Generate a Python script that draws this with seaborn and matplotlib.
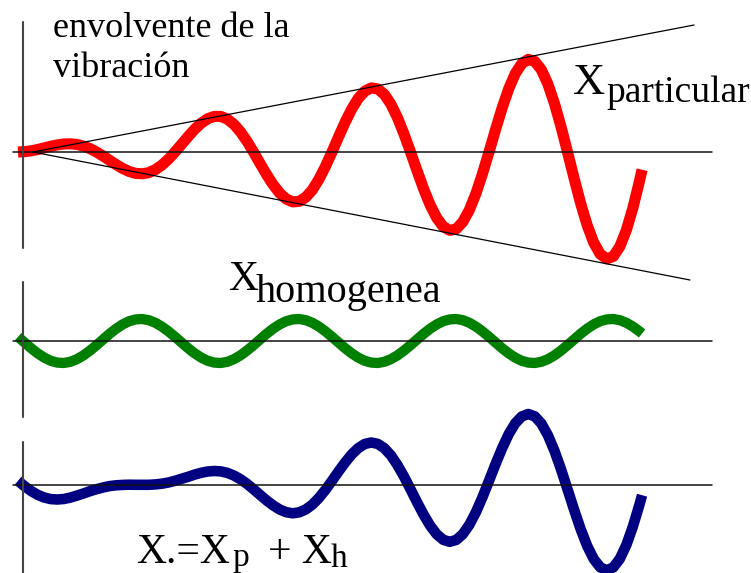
import numpy as np
import pandas as pd
import matplotlib
matplotlib.use("Agg")
import matplotlib.pyplot as plt
from matplotlib import font_manager
import seaborn as sns

sns.set_theme(style="white")

# Time measured in periods of the excitation (24 samples per period)
t = np.append(np.arange(96) / 24, 3.975)

# Particular solution at resonance: amplitude grows linearly with time
x_particular = [
    0, 0.3, 1.2, 2.5, 4.1, 5.7, 7.1, 8.0, 8.2, 7.6, 5.9, 3.4,
    0, -4.0, -8.3, -12.6, -16.5, -19.5, -21.4, -21.8, -20.6, -17.6, -13.1, -7.1,
    0, 7.7, 15.4, 22.7, 28.8, 33.3, 35.6, 35.6, 32.9, 27.7, 20.2, 10.8,
    0, -11.4, -22.6, -32.7, -41.1, -47.0, -49.9, -49.3, -45.2, -37.8, -27.3, -14.4,
    0, 15.1, 29.7, 42.8, 53.5, 60.8, 64.1, 63.1, 57.6, 47.9, 34.4, 18.1,
    0, -18.7, -36.8, -52.9, -65.8, -74.6, -78.4, -76.9, -69.9, -57.9, -41.6, -21.8,
    0, 22.4, 43.9, 63.0, 78.2, 88.3, 92.6, 90.6, 82.3, 68.0, 48.7, 25.5,
    0, -26.1, -51.1, -73.1, -90.5, -102.1, -106.9, -104.4, -94.6, -78.1, -55.8, -29.2,
    -17.7,
]

# Homogeneous solution: constant amplitude
x_homogenea = [
    4.2, -1.5, -7.2, -12.3, -16.6, -19.8, -21.6, -22.0, -20.8, -18.2, -14.4, -9.6,
    -4.2, 1.5, 7.2, 12.3, 16.6, 19.8, 21.6, 22.0, 20.8, 18.2, 14.4, 9.6,
    4.2, -1.5, -7.2, -12.3, -16.6, -19.8, -21.6, -22.0, -20.8, -18.2, -14.4, -9.6,
    -4.2, 1.5, 7.2, 12.3, 16.6, 19.8, 21.6, 22.0, 20.8, 18.2, 14.4, 9.6,
    4.2, -1.5, -7.2, -12.3, -16.6, -19.8, -21.6, -22.0, -20.8, -18.2, -14.4, -9.6,
    -4.2, 1.5, 7.2, 12.3, 16.6, 19.8, 21.6, 22.0, 20.8, 18.2, 14.4, 9.6,
    4.2, -1.5, -7.2, -12.3, -16.6, -19.8, -21.6, -22.0, -20.8, -18.2, -14.4, -9.6,
    -4.2, 1.5, 7.2, 12.3, 16.6, 19.8, 21.6, 22.0, 20.8, 18.2, 14.4, 9.6,
    7.5,
]

# Total response X = Xp + Xh
x_total = np.add(x_particular, x_homogenea)

# Straight envelope of the growing vibration
envelope_upper_t = [0.095, 4.306]
envelope_upper = [0, 127]
envelope_lower_t = [0.095, 4.28]
envelope_lower = [0, -128]


def serif_font():
    """Regular Times-like face, looked up directly in the font list."""
    wanted = ["Liberation Serif", "Times New Roman", "Nimbus Roman", "DejaVu Serif"]
    fonts = font_manager.fontManager.ttflist
    for name in wanted:
        for f in fonts:
            if f.name == name and f.style == "normal" and f.weight in (400, "normal", "regular"):
                return font_manager.FontProperties(fname=f.fname)
    for f in fonts:
        if "Serif" in f.name and "Sans" not in f.name and f.style == "normal":
            return font_manager.FontProperties(fname=f.fname)
    return font_manager.FontProperties(family="serif")


serif = serif_font()

W, H = 751, 573
fig = plt.figure(figsize=(W / 100, H / 100), dpi=100)
fig.patch.set_facecolor("white")

X0, PERIOD = 18, 157          # left start and length of one period (px)
xlim = (-X0 / PERIOD, (W - X0) / PERIOD)


def panel(axis_row):
    ax = fig.add_axes([0, 0, 1, 1])
    ax.set_xlim(*xlim)
    ax.set_ylim(axis_row - H, axis_row)
    ax.axis("off")
    ax.patch.set_alpha(0)
    return ax


ax_p = panel(152)
ax_h = panel(341)
ax_t = panel(485)

curve_kw = dict(sort=False, solid_capstyle="butt", solid_joinstyle="round")
sns.lineplot(x=t, y=x_particular, ax=ax_p, color="#ff0000", linewidth=8.0, zorder=2, **curve_kw)
sns.lineplot(x=t, y=x_homogenea, ax=ax_h, color="#008000", linewidth=7.4, zorder=2, **curve_kw)
sns.lineplot(x=t, y=x_total, ax=ax_t, color="#000080", linewidth=7.6, zorder=2, **curve_kw)

# Axes drawn on top of the curves
axis_t = [-0.032, 4.42]
vert_t = 0.035
for ax, (top, bottom) in ((ax_p, (130, -96)), (ax_h, (59, -76)), (ax_t, (43, -90))):
    ax.plot(axis_t, [0, 0], color="#111111", linewidth=1.1, zorder=3)
    ax.plot([vert_t, vert_t], [top, bottom], color="#444444", linewidth=1.5, zorder=3)

ax_p.plot(envelope_upper_t, envelope_upper, color="black", linewidth=0.9, zorder=3)
ax_p.plot(envelope_lower_t, envelope_lower, color="black", linewidth=0.9, zorder=3)


def label(x, y, s, size):
    fig.text(x / W, 1 - y / H, s, fontproperties=serif, fontsize=size,
             ha="left", va="baseline", color="black")


label(53, 37, "envolvente de la", 26)
label(53, 77, "vibración", 26)

label(573, 94, "X", 32)
label(606, 102, "particular", 27)

label(228, 290, "X", 30)
label(256, 302, "homogenea", 29)

label(136, 563, "X.=X", 30)
label(232, 566, "p", 24)
label(268, 563, "+ X", 30)
label(331, 567, "h", 24)

fig.savefig("out.png", dpi=100, facecolor="white")
